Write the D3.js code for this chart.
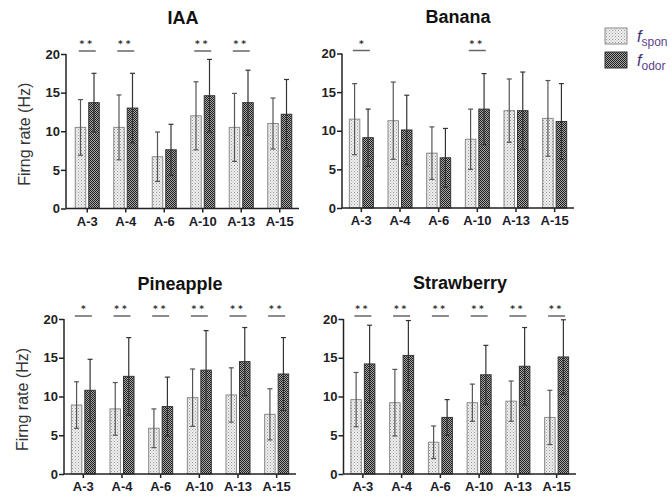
<!DOCTYPE html>
<html><head><meta charset="utf-8">
<script src="https://cdn.jsdelivr.net/npm/d3@7"></script>
<style>body{margin:0;background:#fff}svg{display:block}</style>
</head><body>
<svg id="c" width="672" height="499"></svg>
<script>
const categories = ["A-3","A-4","A-6","A-10","A-13","A-15"];
const panelTitles = ["IAA","Banana","Pineapple","Strawberry"];
const yTicks = [0,5,10,15,20];
// means and SDs (Hz)
const iaaSpon = [10.5,10.5,6.7,12.0,10.5,11.0];
const iaaSponSd = [3.6,4.2,3.2,4.4,4.4,3.3];
const iaaOdor = [13.7,13.0,7.6,14.6,13.7,12.2];
const iaaOdorSd = [3.8,4.5,3.3,4.7,4.2,4.5];
const banSpon = [11.5,11.3,7.1,8.9,12.6,11.6];
const banSponSd = [4.6,5.0,3.4,3.9,4.1,4.9];
const banOdor = [9.1,10.1,6.5,12.8,12.6,11.2];
const banOdorSd = [3.7,4.5,3.8,4.6,5.0,4.9];
const pinSpon = [8.9,8.4,5.9,9.85,10.2,7.7];
const pinSponSd = [3.0,3.4,2.5,3.7,3.5,3.3];
const pinOdor = [10.8,12.6,8.7,13.4,14.5,12.9];
const pinOdorSd = [4.0,5.0,3.8,5.1,4.4,4.7];
const strSpon = [9.6,9.2,4.1,9.2,9.4,7.3];
const strSponSd = [3.5,4.3,2.1,2.4,2.6,3.5];
const strOdor = [14.2,15.3,7.3,12.8,13.9,15.1];
const strOdorSd = [5.0,4.5,2.3,3.8,5.0,4.8];
// significance markers
const iaaSig = ["**","**","","**","**",""];
const banSig = ["*","","","**","",""];
const pinSig = ["*","**","**","**","**","**"];
const strSig = ["**","**","**","**","**","**"];

const svg = d3.select("#c");
const defs = svg.append("defs");
const ps = defs.append("pattern").attr("id","pSpon").attr("patternUnits","userSpaceOnUse").attr("width",3).attr("height",3);
ps.append("rect").attr("width",3).attr("height",3).attr("fill","#eeeeee");
ps.append("rect").attr("x",0).attr("y",0).attr("width",1).attr("height",1).attr("fill","#9a9a9a");
ps.append("rect").attr("x",1.5).attr("y",1.5).attr("width",1).attr("height",1).attr("fill","#b8b8b8");
const po = defs.append("pattern").attr("id","pOdor").attr("patternUnits","userSpaceOnUse").attr("width",2).attr("height",2);
po.append("rect").attr("width",2).attr("height",2).attr("fill","#a8a8a8");
po.append("rect").attr("x",0).attr("y",0).attr("width",1).attr("height",1).attr("fill","#1e1e1e");
po.append("rect").attr("x",1).attr("y",1).attr("width",1).attr("height",1).attr("fill","#1e1e1e");

const panels = [
  {title:panelTitles[0], spon:iaaSpon, sponSd:iaaSponSd, odor:iaaOdor, odorSd:iaaOdorSd, sig:iaaSig, ax:66, bx:[68,299], y:[208.5,54], tx:183, ty:24, label:true},
  {title:panelTitles[1], spon:banSpon, sponSd:banSponSd, odor:banOdor, odorSd:banOdorSd, sig:banSig, ax:342, bx:[342,574], y:[208,53.5], tx:458, ty:23, label:false},
  {title:panelTitles[2], spon:pinSpon, sponSd:pinSponSd, odor:pinOdor, odorSd:pinOdorSd, sig:pinSig, ax:64, bx:[64,296], y:[474,319], tx:180, ty:290, label:true},
  {title:panelTitles[3], spon:strSpon, sponSd:strSponSd, odor:strOdor, odorSd:strOdorSd, sig:strSig, ax:343.5, bx:[343.5,576], y:[474,319], tx:460, ty:289, label:false}
];

panels.forEach(p => {
  const g = svg.append("g");
  const x = d3.scaleBand().domain(categories).range(p.bx).padding(0);
  const y = d3.scaleLinear().domain([0,20]).range(p.y);
  const bw = 10.5, gap = 3;
  g.append("text").attr("x",p.tx).attr("y",p.ty).attr("text-anchor","middle")
    .attr("font-family","Liberation Sans, Arial, sans-serif").attr("font-weight","bold").attr("font-size",18).attr("fill","#111").text(p.title);
  if (p.label) {
    const cy = (p.y[0]+p.y[1])/2 + 3;
    g.append("text").attr("transform",`translate(${p.ax-36},${cy}) rotate(-90)`).attr("text-anchor","middle")
      .attr("font-family","Liberation Sans, Arial, sans-serif").attr("font-size",16).attr("fill","#333").text("Firng rate (Hz)");
  }
  const series = [
    {v:p.spon, sd:p.sponSd, off:-gap/2-bw, fill:"url(#pSpon)", stroke:"#8a8a8a", err:"#555"},
    {v:p.odor, sd:p.odorSd, off:gap/2, fill:"url(#pOdor)", stroke:"#333", err:"#333"}
  ];
  series.forEach(s => {
    categories.forEach((c,i) => {
      const cx = x(c) + x.bandwidth()/2;
      const bx0 = cx + s.off;
      const m = s.v[i], sd = s.sd[i];
      g.append("rect").attr("x",bx0).attr("y",y(m)).attr("width",bw).attr("height",y(0)-y(m))
        .attr("fill",s.fill).attr("stroke",s.stroke).attr("stroke-width",1);
      const ex = bx0 + bw/2;
      g.append("line").attr("x1",ex).attr("x2",ex).attr("y1",y(m-sd)).attr("y2",y(m+sd)).attr("stroke",s.err).attr("stroke-width",1.2);
      [m-sd, m+sd].forEach(v => g.append("line").attr("x1",ex-2.5).attr("x2",ex+2.5).attr("y1",y(v)).attr("y2",y(v)).attr("stroke",s.err).attr("stroke-width",1.2));
    });
  });
  categories.forEach((c,i) => {
    if (!p.sig[i]) return;
    const cx = x(c) + x.bandwidth()/2;
    g.append("line").attr("x1",cx-8.5).attr("x2",cx+8.5).attr("y1",y(20)-3).attr("y2",y(20)-3).attr("stroke","#666").attr("stroke-width",1.5);
    g.append("text").attr("x",cx).attr("y",y(20)-7).attr("text-anchor","middle")
      .attr("font-family","DejaVu Sans, sans-serif").attr("font-size",9).attr("font-weight","bold").attr("fill","#333")
      .attr("letter-spacing", p.sig[i].length>1 ? 3 : 0).text(p.sig[i]);
  });
  const ya = g.append("g").attr("transform",`translate(${p.ax},0)`).call(d3.axisLeft(y).tickValues(yTicks).tickSize(5).tickSizeOuter(0));
  ya.select(".domain").attr("stroke","#222").attr("stroke-width",1.5).attr("d",`M0,${y(0)}V${y(20)}`);
  ya.selectAll(".tick line").attr("stroke","#222").attr("stroke-width",1.5);
  ya.selectAll(".tick text").attr("font-family","Liberation Sans, Arial, sans-serif").attr("font-weight","bold").attr("font-size",13).attr("fill","#222").attr("x",-6);
  const xa = g.append("g").attr("transform",`translate(0,${y(0)})`).call(d3.axisBottom(x).tickSize(4).tickSizeOuter(0));
  xa.select(".domain").attr("stroke","#222").attr("stroke-width",1.5).attr("d",`M${p.ax},0H${p.bx[1]}`);
  xa.selectAll(".tick line").attr("stroke","#222").attr("stroke-width",1.5);
  xa.selectAll(".tick text").attr("font-family","Liberation Sans, Arial, sans-serif").attr("font-weight","bold").attr("font-size",13).attr("fill","#1c1c2a").attr("y",8);
});

const lg = svg.append("g");
const legendItems = [{fill:"url(#pSpon)", stroke:"#8a8a8a", sub:"spon", y:28},{fill:"url(#pOdor)", stroke:"#333", sub:"odor", y:52}];
legendItems.forEach(it => {
  lg.append("rect").attr("x",605).attr("y",it.y).attr("width",22).attr("height",16).attr("fill",it.fill).attr("stroke",it.stroke).attr("stroke-width",1);
  const t = lg.append("text").attr("x",637).attr("y",it.y+14).attr("font-family","Liberation Sans, Arial, sans-serif").attr("fill","#5a3f8e");
  t.append("tspan").attr("font-style","italic").attr("font-size",16).attr("fill","#3d2f70").text("f");
  t.append("tspan").attr("font-size",12).attr("dy",4).text(it.sub);
});
</script>
</body></html>
